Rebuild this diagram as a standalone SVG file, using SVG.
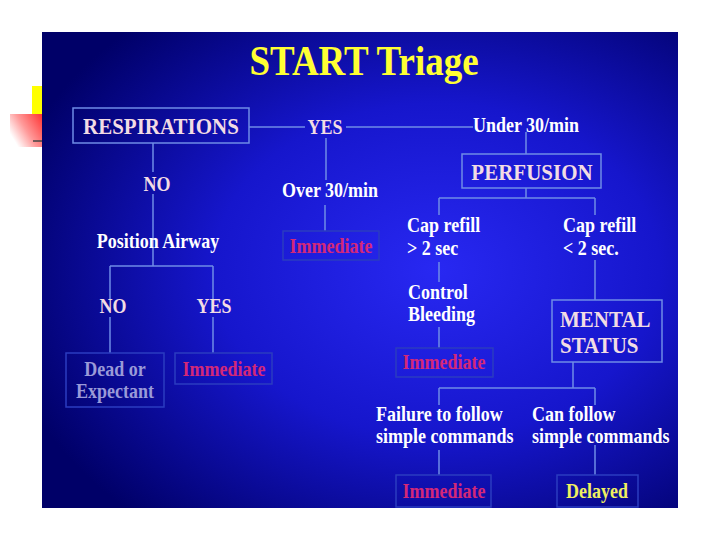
<svg xmlns="http://www.w3.org/2000/svg" width="720" height="540" viewBox="0 0 720 540">
<defs>
<radialGradient id="bg" cx="0.62" cy="0.5" r="0.7">
<stop offset="0" stop-color="#2828f2"/>
<stop offset="0.5" stop-color="#1616cc"/>
<stop offset="1" stop-color="#000068"/>
</radialGradient>
<linearGradient id="redg" x1="1" y1="0" x2="0" y2="0.6">
<stop offset="0" stop-color="#ff2a2a"/>
<stop offset="0.6" stop-color="#ff9a9a"/>
<stop offset="1" stop-color="#ffffff"/>
</linearGradient>
<style>
.ln{stroke:#6f8ce6;stroke-width:1.5;fill:none}
.nb{fill:none;stroke:#6f8ce6;stroke-width:1.5}
.rb{fill:none;stroke:#2b3cc0;stroke-width:1.5}
text{font-family:"Liberation Serif","Times New Roman",serif;font-weight:bold;transform-box:fill-box;transform-origin:50% 80.5%;transform:scaleY(1.12)}
.nt{fill:#f2dce4;font-size:21px}
.wt{fill:#ffffff;font-size:18px}
.yn{fill:#f2dce4;font-size:18px}
.im{fill:#d42878;font-size:18px}
.dl{fill:#f0f060;font-size:18px}
.de{fill:#9a9ad8;font-size:18px}
</style>
</defs>
<rect x="0" y="0" width="720" height="540" fill="#ffffff"/>
<rect x="32" y="86" width="12" height="28" fill="#ffff00"/>
<rect x="10" y="114" width="34" height="33" fill="url(#redg)"/>
<line x1="33" y1="141" x2="44" y2="141" stroke="#444" stroke-width="1.5"/>
<rect x="42" y="32" width="636" height="476" fill="url(#bg)"/>
<text x="364" y="75" text-anchor="middle" font-size="37" fill="#ffff33">START Triage</text>
<g id="connectors">
<path class="ln" d="M249,127 H305 M346,127 H473"/>
<path class="ln" d="M326,138 V180 M325,205 V231"/>
<path class="ln" d="M526,132 V154 M526,188 V198 M439,198 H595 M439,198 V215 M595,198 V215"/>
<path class="ln" d="M439,262 V282 M439,327 V348 M595,260 V300"/>
<path class="ln" d="M573,362 V388 M439,388 H595 M439,388 V405 M595,388 V405"/>
<path class="ln" d="M439,450 V475 M595,445 V475"/>
<path class="ln" d="M153,143 V172 M153,194 V266 M110,266 H213 M110,266 V300 M213,266 V300 M110,317 V353 M213,317 V353"/>
</g>
<g id="respirations"><rect class="nb" x="73" y="108" width="176" height="35"/><text class="nt" x="161" y="134" text-anchor="middle">RESPIRATIONS</text></g>
<g id="yes-top"><text class="yn" x="325" y="134" text-anchor="middle" font-size="19">YES</text></g>
<g id="under30"><text class="wt" x="526" y="132" text-anchor="middle">Under 30/min</text></g>
<g id="over30"><text class="wt" x="330" y="197" text-anchor="middle">Over 30/min</text></g>
<g id="immediate-1"><rect class="rb" x="283" y="231" width="96" height="29"/><text class="im" x="331" y="253" text-anchor="middle">Immediate</text></g>
<g id="perfusion"><rect class="nb" x="462" y="154" width="139" height="34"/><text class="nt" x="532" y="180" text-anchor="middle">PERFUSION</text></g>
<g id="cap-gt"><text class="wt" x="407" y="232">Cap refill</text><text class="wt" x="407" y="255">&gt; 2 sec</text></g>
<g id="cap-lt"><text class="wt" x="563" y="232">Cap refill</text><text class="wt" x="563" y="255">&lt; 2 sec.</text></g>
<g id="control"><text class="wt" x="408" y="299">Control</text><text class="wt" x="408" y="321">Bleeding</text></g>
<g id="immediate-2"><rect class="rb" x="396" y="348" width="97" height="29"/><text class="im" x="444" y="369" text-anchor="middle">Immediate</text></g>
<g id="mental"><rect class="nb" x="552" y="300" width="110" height="62"/><text class="nt" x="560" y="327">MENTAL</text><text class="nt" x="560" y="353">STATUS</text></g>
<g id="failure"><text class="wt" x="376" y="421">Failure to follow</text><text class="wt" x="376" y="443">simple commands</text></g>
<g id="canfollow"><text class="wt" x="532" y="421">Can follow</text><text class="wt" x="532" y="443">simple commands</text></g>
<g id="immediate-3"><rect class="rb" x="396" y="475" width="95" height="32"/><text class="im" x="444" y="498" text-anchor="middle">Immediate</text></g>
<g id="delayed"><rect class="rb" x="557" y="475" width="81" height="32"/><text class="dl" x="597" y="498" text-anchor="middle">Delayed</text></g>
<g id="no-top"><text class="yn" x="157" y="191" text-anchor="middle">NO</text></g>
<g id="position"><text class="wt" x="158" y="248" text-anchor="middle">Position Airway</text></g>
<g id="no-2"><text class="yn" x="113" y="313" text-anchor="middle">NO</text></g>
<g id="yes-2"><text class="yn" x="214" y="313" text-anchor="middle">YES</text></g>
<g id="dead"><rect class="rb" x="66" y="353" width="98" height="54"/><text class="de" x="115" y="376" text-anchor="middle">Dead or</text><text class="de" x="115" y="398" text-anchor="middle">Expectant</text></g>
<g id="immediate-4"><rect class="rb" x="175" y="353" width="97" height="31"/><text class="im" x="224" y="376" text-anchor="middle">Immediate</text></g>
</svg>
